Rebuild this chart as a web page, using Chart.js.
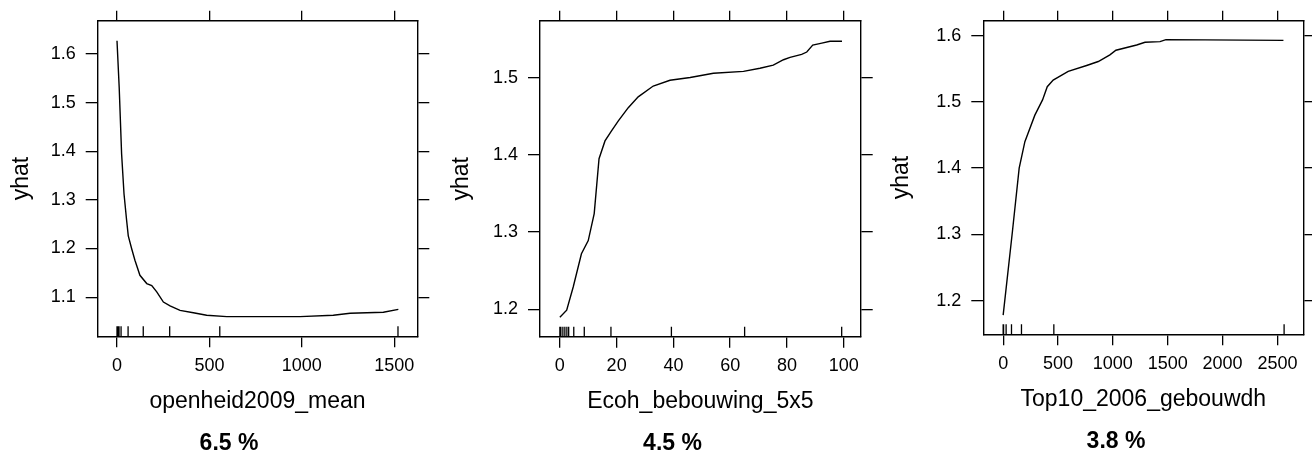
<!DOCTYPE html>
<html>
<head>
<meta charset="utf-8">
<script src="https://cdn.jsdelivr.net/npm/chart.js@4"></script>
<style>
  html, body { margin: 0; padding: 0; background: #fff; overflow: hidden; width: 1312px; height: 454px; }
  .panel { position: absolute; top: 0; }
</style>
</head>
<body>
<div class="panel" style="left:0px"><canvas id="c0" width="458" height="455"></canvas></div>
<div class="panel" style="left:440px"><canvas id="c1" width="465" height="455"></canvas></div>
<div class="panel" style="left:880px"><canvas id="c2" width="472" height="455"></canvas></div>
<script>
// partial dependence: openheid2009_mean
const openX = [0, 12, 25, 38, 52, 61, 79, 97, 124, 161, 188, 215, 251, 287, 341, 413, 485, 594, 800, 990, 1170, 1261, 1441, 1522];
const openY = [1.627, 1.530, 1.394, 1.312, 1.258, 1.226, 1.200, 1.176, 1.145, 1.128, 1.124, 1.111, 1.090, 1.082, 1.073, 1.068, 1.063, 1.060, 1.060, 1.060, 1.063, 1.067, 1.069, 1.075];
const openRug = [0, 4, 11, 22, 60, 142, 285, 556, 1520];
const openXTicks = [0, 500, 1000, 1500];
const openYTicks = [1.1, 1.2, 1.3, 1.4, 1.5, 1.6];

// partial dependence: Ecoh_bebouwing_5x5
const ecohX = [0, 2.4, 4.7, 7.6, 10.0, 12.1, 13.8, 15.9, 18.2, 20.6, 24.1, 27.6, 32.9, 38.8, 45.9, 54.1, 64.7, 70.5, 75.2, 78.8, 81.1, 85.2, 87, 89.1, 92.3, 95.2, 99.4];
const ecohY = [1.190, 1.199, 1.229, 1.272, 1.289, 1.324, 1.395, 1.418, 1.431, 1.444, 1.461, 1.475, 1.489, 1.4965, 1.500, 1.5055, 1.508, 1.512, 1.516, 1.523, 1.526, 1.530, 1.533, 1.542, 1.5445, 1.547, 1.547];
const ecohRug = [0, 0.35, 1.06, 1.76, 2.47, 3.1, 4.9, 8.6, 18, 39.3, 65.1, 99.3];
const ecohXTicks = [0, 20, 40, 60, 80, 100];
const ecohYTicks = [1.2, 1.3, 1.4, 1.5];

// partial dependence: Top10_2006_gebouwdh
const topX = [0, 85, 146, 198, 289, 359, 402, 456, 593, 761, 867, 973, 1028, 1217, 1293, 1430, 1484, 2555];
const topY = [1.178, 1.305, 1.400, 1.440, 1.480, 1.503, 1.523, 1.533, 1.546, 1.555, 1.561, 1.571, 1.578, 1.586, 1.590, 1.591, 1.594, 1.593];
const topRug = [0, 4, 27, 76, 167, 462, 2561];
const topXTicks = [0, 500, 1000, 1500, 2000, 2500];
const topYTicks = [1.2, 1.3, 1.4, 1.5, 1.6];

const FONT = "'Liberation Sans', Helvetica, Arial, sans-serif";
Chart.defaults.font.family = FONT;
Chart.defaults.color = '#000';

const rugPlugin = {
  id: 'rug',
  afterDatasetsDraw(chart, args, opts) {
    const { ctx, chartArea, scales: { x } } = chart;
    ctx.save();
    ctx.strokeStyle = '#000';
    ctx.lineWidth = 1.3;
    ctx.beginPath();
    opts.values.forEach(v => {
      const px = x.getPixelForValue(v);
      ctx.moveTo(px, chartArea.bottom);
      ctx.lineTo(px, chartArea.bottom - 10);
    });
    ctx.stroke();
    ctx.restore();
  }
};

function makePanel(id, p) {
  const setTicks = vals => scale => { scale.ticks = vals.map(v => ({ value: v })); };
  const grid = len => ({ drawOnChartArea: false, color: '#000', lineWidth: 1.3, tickLength: len });
  const border = { display: true, color: '#000', width: 1.4 };
  const canvas = document.getElementById(id);
  // bottom title box is 23px tall; x axis gets the rest below the plot box
  const xH = (455 - p.padBottom - 23) - p.area.bottom;

  new Chart(canvas, {
    type: 'line',
    data: {
      datasets: [{
        data: p.x.map((v, i) => ({ x: v, y: p.y[i] })),
        borderColor: '#000',
        borderWidth: 1.4,
        pointRadius: 0,
        fill: false,
        tension: 0,
      }],
    },
    options: {
      responsive: false,
      animation: false,
      events: [],
      layout: { padding: { left: 0, right: 0, top: 0, bottom: p.padBottom } },
      plugins: {
        legend: { display: false },
        tooltip: { enabled: false },
        title: {
          display: true, position: 'bottom', text: p.title, padding: 0,
          font: { family: FONT, size: 23, weight: 'bold', lineHeight: 1 },
        },
        rug: { values: p.rug },
      },
      scales: {
        x: {
          type: 'linear', position: 'bottom', min: p.xMin, max: p.xMax,
          afterBuildTicks: setTicks(p.xTicks),
          afterFit: s => { s.height = xH; },
          grid: grid(11), border,
          ticks: { padding: 8, font: { size: 18 }, maxRotation: 0, autoSkip: false, callback: v => String(v) },
          title: { display: true, text: p.xlab, font: { size: 23 }, padding: { top: 0, bottom: 16.2 } },
        },
        x2: {
          type: 'linear', position: 'top', min: p.xMin, max: p.xMax,
          afterBuildTicks: setTicks(p.xTicks),
          afterFit: s => { s.height = p.area.top; },
          grid: grid(10), border,
          ticks: { display: false },
        },
        y: {
          type: 'linear', position: 'left', min: p.yMin, max: p.yMax,
          afterBuildTicks: setTicks(p.yTicks),
          afterFit: s => { s.width = p.area.left; },
          grid: grid(12), border,
          ticks: { padding: 10, font: { size: 18 }, callback: v => v.toFixed(1) },
          title: { display: true, text: 'yhat', font: { size: 23 }, padding: { top: 8.2, bottom: 0 } },
        },
        y2: {
          type: 'linear', position: 'right', min: p.yMin, max: p.yMax,
          afterBuildTicks: setTicks(p.yTicks),
          afterFit: s => { s.width = canvas.width - p.area.right; },
          grid: grid(12), border,
          ticks: { display: false },
        },
      },
    },
    plugins: [rugPlugin],
  });
}

makePanel('c0', {
  x: openX, y: openY, rug: openRug, xTicks: openXTicks, yTicks: openYTicks,
  xMin: -104.4, xMax: 1624.5, yMin: 1.0196, yMax: 1.668,
  xlab: 'openheid2009_mean', title: '6.5 %',
  area: { left: 97.7, right: 417.3, top: 19.3, bottom: 336.3 }, padBottom: 0,
});
makePanel('c1', {
  x: ecohX, y: ecohY, rug: ecohRug, xTicks: ecohXTicks, yTicks: ecohYTicks,
  xMin: -7.0, xMax: 106.0, yMin: 1.1647, yMax: 1.5734,
  xlab: 'Ecoh_bebouwing_5x5', title: '4.5 %',
  area: { left: 100, right: 420.7, top: 19.3, bottom: 336.7 }, padBottom: 0,
});
makePanel('c2', {
  x: topX, y: topY, rug: topRug, xTicks: topXTicks, yTicks: topYTicks,
  xMin: -181, xMax: 2736, yMin: 1.149, yMax: 1.6225,
  xlab: 'Top10_2006_gebouwdh', title: '3.8 %',
  area: { left: 103.3, right: 423.3, top: 18.3, bottom: 334.3 }, padBottom: 2,
});
</script>
</body>
</html>
